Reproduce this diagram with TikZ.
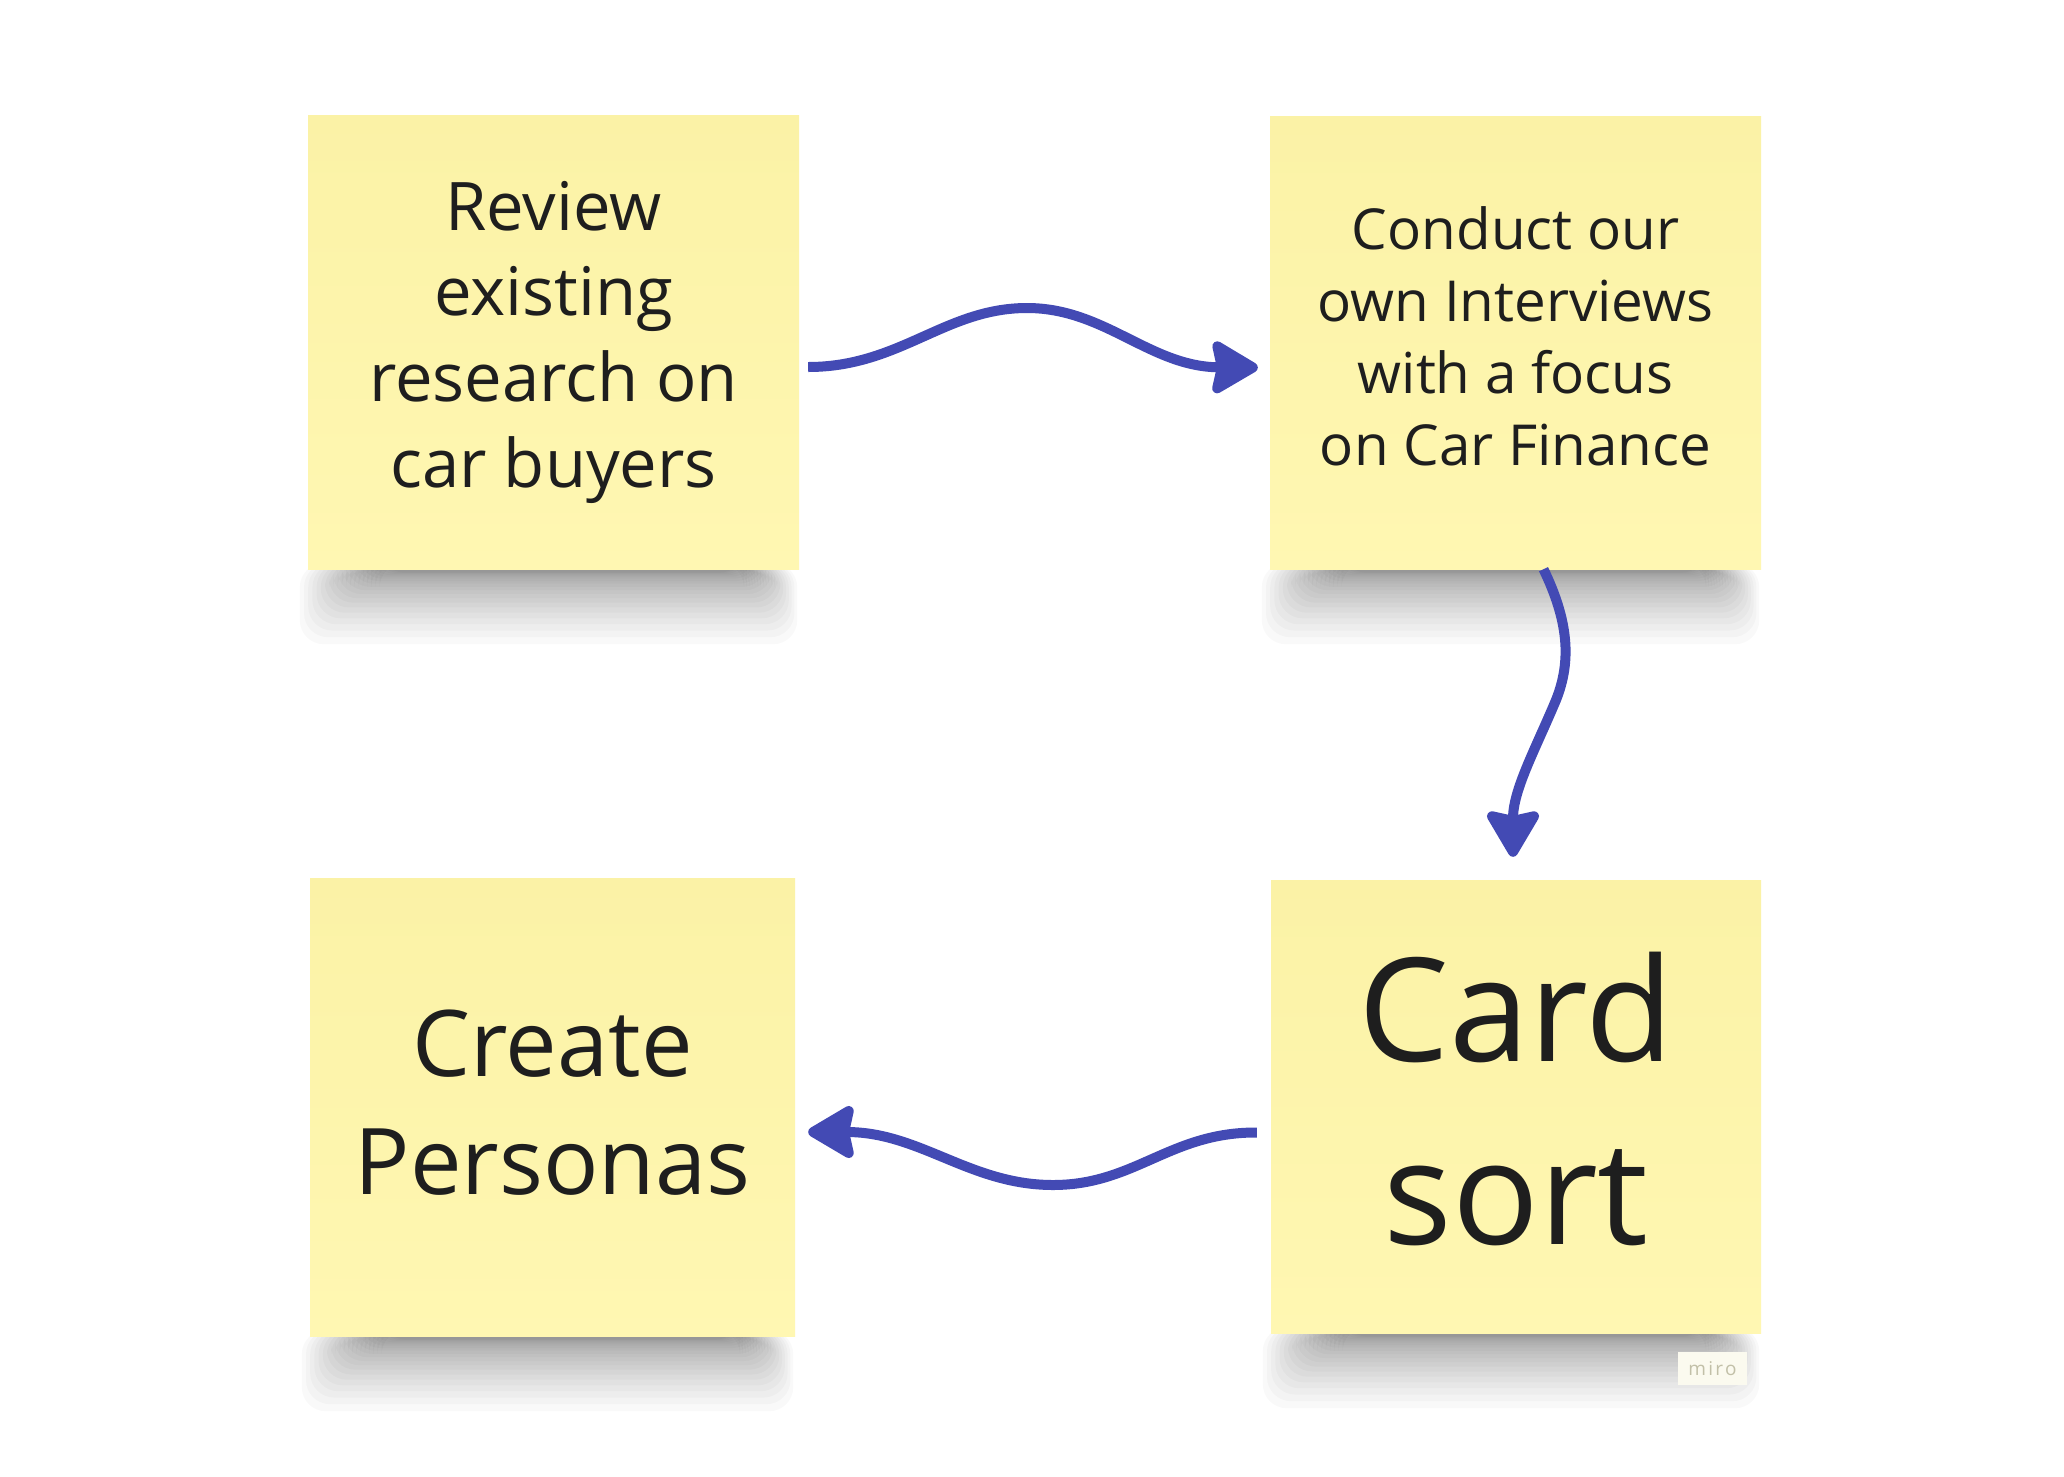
\documentclass[tikz,border=0pt]{standalone}
\usepackage{fontspec}
\setmainfont{Open Sans}
\usetikzlibrary{arrows.meta,calc,backgrounds}
\definecolor{noteA}{HTML}{FBF2A6}
\definecolor{noteM}{HTML}{FEF6AC}
\definecolor{noteB}{HTML}{FFF7B2}
\definecolor{ink}{HTML}{1E1E1E}
\definecolor{arrowblue}{RGB}{67,74,180}
\definecolor{wmbg}{HTML}{FBFAEF}
\definecolor{wmtext}{HTML}{C2C0A8}
\tikzset{
  note/.style={draw=none, inner sep=0pt, top color=noteA, middle color=noteM, bottom color=noteB},
  conn/.style={draw=arrowblue, line width=10pt, line cap=butt,
    -{Stealth[length=52pt, width=60pt, inset=6pt, round]}},
  txtA/.style={anchor=base, text=ink, inner sep=0pt, font=\fontsize{67}{86}\selectfont},
  txtB/.style={anchor=base, text=ink, inner sep=0pt, font=\fontsize{56.5}{72}\selectfont},
  txtC/.style={anchor=base, text=ink, inner sep=0pt, font=\fontsize{92}{118}\selectfont},
  txtD/.style={anchor=base, text=ink, inner sep=0pt, font=\fontsize{144}{183}\selectfont},
}
\begin{document}
\begin{tikzpicture}[x=1pt, y=-1pt]
\useasboundingbox (0,0) rectangle (2064,1476);

% sticky notes
\node[note, minimum width=491pt, minimum height=454pt] (n1) at (553.5,342) {};
\node[note, minimum width=491pt, minimum height=453pt] (n2) at (1515.5,342.5) {};
\node[note, minimum width=485pt, minimum height=458pt] (n3) at (552.5,1107) {};
\node[note, minimum width=490pt, minimum height=453pt] (n4) at (1516,1106.5) {};

% background and shadows
\begin{scope}[on background layer]
\fill[white] (0,0) rectangle (2064,1476);
\foreach \n in {n1,n2,n3,n4}{
  \foreach \i in {0,...,19}{
    \pgfmathsetmacro\dep{3+72*(1-\i/20)^2}
    \fill[black, opacity=0.024, rounded corners=24pt]
      ($(\n.south west)+(-8+4.2*\i,-6)$) rectangle ($(\n.south east)+(-2-2.8*\i,\dep)$);
  }
}
\end{scope}

% texts
\foreach \t [count=\k] in {Review, existing, research on, car buyers}
  \node[txtA] (t1-\k) at (553.5,230+85.7*\k-85.7) {\t};
\foreach \t [count=\k] in {Conduct our, own Interviews, with a focus, on Car Finance}
  \node[txtB] (t2-\k) at (1515.5,249+72*\k-72) {\t};
\foreach \t [count=\k] in {Create, Personas}
  \node[txtC] (t3-\k) at (552.5,1076+118*\k-118) {\t};
\foreach \t [count=\k] in {Card, sort}
  \node[txtD] (t4-\k) at (1516,1061+183*\k-183) {\t};

% connectors
\coordinate (p1) at (1027,308);
\coordinate (p2) at (1556,700);
\coordinate (p3) at (1053,1185);
\draw[conn] ($(n1.east)+(9,25)$) .. controls (900,367) and (945,308) .. (p1)
  .. controls (1105,308) and (1150,367) .. ($(n2.west)+(-12,25)$);
\draw[conn] ($(n2.south)+(28,0)$) .. controls (1568,620) and (1572,660) .. (p2)
  .. controls (1535,750) and (1513,790) .. ($(n4.north)+(-3,-23)$);
\draw[conn] ($(n4.west)+(-14,26)$) .. controls (1170,1132) and (1135,1185) .. (p3)
  .. controls (970,1185) and (920,1132) .. ($(n3.east)+(13,25)$);

% watermark
\node[fill=wmbg, minimum width=69pt, minimum height=33pt, inner sep=0pt,
  text=wmtext, font=\fontsize{19}{20}\selectfont\addfontfeatures{LetterSpace=12}] (wm) at (1712.5,1368.5) {miro};
\end{tikzpicture}
\end{document}
